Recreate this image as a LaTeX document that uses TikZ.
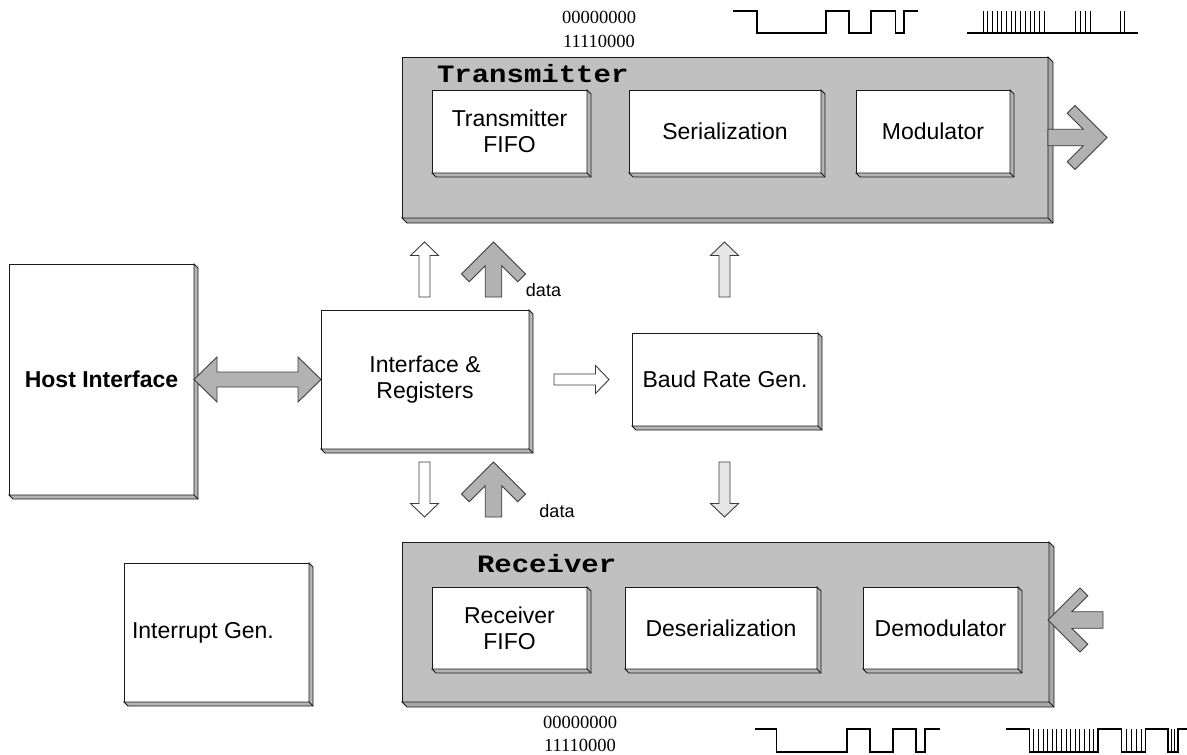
\documentclass[tikz,border=0pt]{standalone}
\usepackage{graphicx}
\usepackage{fontspec}
\setmainfont{Liberation Sans}
\newfontfamily\monob{Liberation Mono}
\newfontfamily\serifd{Liberation Serif}
\usetikzlibrary{calc}
\definecolor{outergray}{HTML}{C0C0C0}
\definecolor{bevelgray}{HTML}{A8A8A8}
\definecolor{innerbevel}{HTML}{B4B4B4}
\definecolor{arrowgray}{HTML}{B2B2B2}
\definecolor{lightfill}{HTML}{E6E6E6}
\definecolor{edge}{HTML}{1A1A1A}
\tikzset{
 blk/.style={draw=edge, line width=1pt, fill=white, rectangle, inner sep=0pt, outer sep=0pt, anchor=north west, align=center, font=\fontsize{23}{26}\selectfont},
 grp/.style={blk, fill=outergray},
 txt/.style={inner sep=0pt, outer sep=0pt, font=\fontsize{23}{26}\selectfont},
 grptitle/.style={inner sep=0pt, outer sep=0pt, anchor=base west, font=\monob\bfseries\fontsize{25}{25}\selectfont},
 bits/.style={inner sep=0pt, outer sep=0pt, font=\serifd\fontsize{18.5}{18.5}\selectfont},
 smalltxt/.style={inner sep=0pt, outer sep=0pt, font=\fontsize{18}{18}\selectfont},
 bigarrow/.style={draw=edge!85, line width=0.9pt, fill=arrowgray, line join=miter},
 thinarrow/.style={draw=edge!85, line width=0.9pt, line join=miter},
 wave/.style={draw=black, line width=1.1pt},
 spike/.style={draw=black, line width=1pt},
}
\newcommand\bevelbox[3]{%
 \draw[line width=0.8pt, draw=edge, fill=#3] (#1.north east) -- ++(#2,#2) -- ($(#1.south east)+(#2,#2)$) -- ($(#1.south west)+(#2,#2)$) -- (#1.south west) -- (#1.south east) -- cycle;
 \draw[line width=0.8pt, draw=edge] (#1.south east) -- ++(#2,#2);
}
\newcommand\chevron[3]{%
 \begin{scope}[shift={#1}, rotate=#2]
 \draw[bigarrow] (0,0) -- (-32,-32) -- (-39.75,-24.25) -- (-23.75,-8.25) -- (-#3,-8.25) -- (-#3,8.25) -- (-23.75,8.25) -- (-39.75,24.25) -- (-32,32) -- cycle;
 \end{scope}}
\newcommand\hollow[4]{%
 \begin{scope}[shift={#1}, rotate=#2]
 \draw[thinarrow, fill=#4] (0,0) -- (-13.5,-14) -- (-13.5,-5.5) -- (-#3,-5.5) -- (-#3,5.5) -- (-13.5,5.5) -- (-13.5,14) -- cycle;
 \end{scope}}
\begin{document}
\begin{tikzpicture}[x=1pt,y=-1pt]
\fill[white] (0,0) rectangle (1187,755);
\path[use as bounding box] (0,0) rectangle (1187,755);

% bit strings
\node[bits] (bt1) at (599,17) {00000000};
\node[bits] (bt2) at (599,41) {11110000};
\node[bits] (bb1) at (580,722) {00000000};
\node[bits] (bb2) at (580,745) {11110000};

% top waveforms
\draw[wave] (733,11) -- (757,11) -- (757,33) -- (826,33) -- (826,11) -- (849,11) -- (849,33) -- (871,33) -- (871,11) -- (895.5,11) -- (895.5,33) -- (904,33) -- (904,11) -- (918,11);
\draw[wave] (967,33) -- (1138,33);
\foreach \i in {0,...,13} \draw[spike] ({983.3+4.67*\i},33) -- ++(0,-22);
\foreach \x in {1075.7,1080.5,1085.3,1090,1120,1124.5} \draw[spike] (\x,33) -- (\x,11);

% bottom waveforms
\draw[wave] (754.6,729) -- (776.7,729) -- (776.7,752) -- (847,752) -- (847,729) -- (870,729) -- (870,752) -- (893,752) -- (893,729) -- (916,729) -- (916,752) -- (925,752) -- (925,729) -- (939.6,729);
\draw[wave] (1006,729) -- (1029.3,729) -- (1029.3,752) -- (1098,752) -- (1098,729) -- (1121.7,729) -- (1121.7,752) -- (1145.7,752) -- (1145.7,729) -- (1168,729) -- (1168,752) -- (1178,752) -- (1178,729) -- (1187,729);
\foreach \i in {1,...,14} \draw[spike] ({1029.3+4.6*\i},752) -- ++(0,-23);
\foreach \x in {1126.7,1131.5,1136.3,1141,1171.5,1174.8} \draw[spike] (\x,752) -- (\x,729);

% transmitter group
\node[grp, minimum width=646pt, minimum height=161pt] (tx) at (402,57) {};
\bevelbox{tx}{5}{bevelgray}
\node[grptitle] (txtitle) at (437,82) {\scalebox{1.16}[1]{Transmitter}};
\node[blk, minimum width=155pt, minimum height=83pt] (txfifo) at (432,90) {Transmitter\\FIFO};
\bevelbox{txfifo}{4}{innerbevel}
\node[blk, minimum width=192pt, minimum height=83pt] (ser) at (629,90) {Serialization};
\bevelbox{ser}{4}{innerbevel}
\node[blk, minimum width=154pt, minimum height=83pt] (mod) at (856,90) {Modulator};
\bevelbox{mod}{4}{innerbevel}
\chevron{($(tx.east)+(59,0)$)}{0}{59}

% receiver group
\node[grp, minimum width=647pt, minimum height=160pt] (rx) at (402,542) {};
\bevelbox{rx}{5}{bevelgray}
\node[grptitle] (rxtitle) at (477,572) {\scalebox{1.16}[1]{Receiver}};
\node[blk, minimum width=155pt, minimum height=82pt] (rxfifo) at (432,587) {Receiver\\FIFO};
\bevelbox{rxfifo}{4}{innerbevel}
\node[blk, minimum width=192pt, minimum height=82pt] (deser) at (625,587) {Deserialization};
\bevelbox{deser}{4}{innerbevel}
\node[blk, minimum width=155pt, minimum height=82pt] (demod) at (863,587) {Demodulator};
\bevelbox{demod}{4}{innerbevel}
\chevron{($(rx.east)+(-1,-2)$)}{180}{55}

% left blocks
\node[blk, minimum width=185pt, minimum height=231pt] (host) at (9,264) {\bfseries Host Interface};
\bevelbox{host}{4}{innerbevel}
\node[blk, minimum width=208pt, minimum height=139pt] (ifr) at (321,310) {Interface \&\\Registers};
\bevelbox{ifr}{4}{innerbevel}
\node[blk, minimum width=186pt, minimum height=93pt] (baud) at (632,333) {Baud Rate Gen.};
\bevelbox{baud}{4}{innerbevel}
\node[blk, minimum width=185pt, minimum height=139pt] (intr) at (124,563) {};
\bevelbox{intr}{4}{innerbevel}
\node[txt, anchor=west] (intrlbl) at (132,633) {Interrupt Gen.};

% host <-> interface double arrow
\draw[bigarrow] (host.east) -- ++(23,-22.5) -- ++(0,15) -- ($(ifr.west)+(-23,-7.5)$) -- ++(0,-15) -- (ifr.west) -- ++(-23,22.5) -- ++(0,-15) -- ($(host.east)+(23,7.5)$) -- ++(0,15) -- cycle;

% interface arrows
\hollow{($(ifr.north)+(-0.5,-68)$)}{90}{55}{white}
\hollow{($(ifr.south)+(-0.5,68)$)}{-90}{55}{white}
\chevron{($(ifr.north)+(68.5,-68)$)}{90}{55}
\chevron{($(ifr.south)+(68.5,13)$)}{90}{55}
\node[smalltxt] (data1) at (543.5,290.5) {data};
\node[smalltxt] (data2) at (557,511.5) {data};
\hollow{($(ifr.east)+(80,0)$)}{0}{55}{white}

% baud arrows
\hollow{($(baud.north)+(-0.5,-91)$)}{90}{55}{lightfill}
\hollow{($(baud.south)+(-0.5,91)$)}{-90}{55}{lightfill}
\end{tikzpicture}
\end{document}
